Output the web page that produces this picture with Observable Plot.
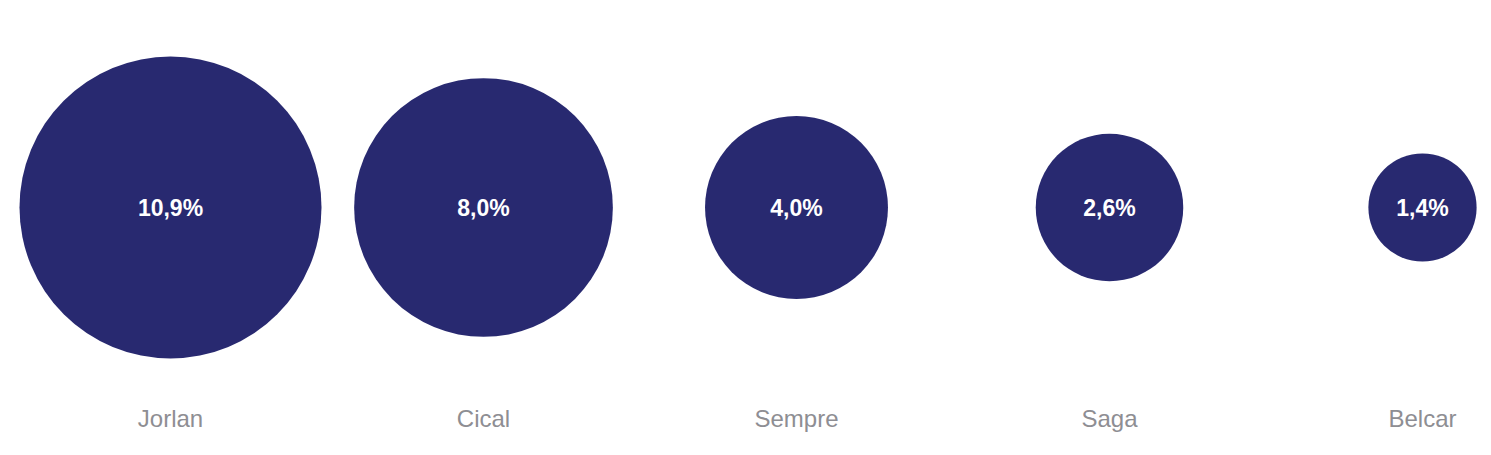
<!DOCTYPE html>
<html>
<head>
<meta charset="utf-8">
<script src="https://cdn.jsdelivr.net/npm/d3@7"></script>
<script src="https://cdn.jsdelivr.net/npm/@observablehq/plot@0.6"></script>
<style>
  body { margin: 0; background: #fff; }
</style>
</head>
<body>
<div id="chart"></div>
<script>
const brands = ["Jorlan", "Cical", "Sempre", "Saga", "Belcar"];
const shares = [10.9, 8.0, 4.0, 2.6, 1.4];

const data = brands.map((b, i) => ({brand: b, share: shares[i]}));
const fmt = v => v.toFixed(1).replace(".", ",") + "%";

let chart = Plot.plot({
  width: 1491,
  height: 455,
  marginTop: 9,
  marginBottom: 50,
  style: {fontFamily: "Arial, 'Liberation Sans', sans-serif", background: "#fff"},
  x: {type: "point", domain: brands, range: [169, 1423], padding: 0, label: null},
  r: {type: "sqrt", domain: [0, 10.9], range: [0, 151]},
  marks: [
    Plot.axisX({anchor: "bottom", tickSize: 0, tickPadding: 4, fontSize: 24, color: "#8e8e93", label: null}),
    Plot.dot(data, {x: "brand", r: "share", fill: "#282970", stroke: "none"}),
    Plot.text(data, {x: "brand", text: d => fmt(d.share), fill: "#fff",
      fontSize: 23, fontWeight: "bold", dy: 1})
  ]
});

d3.select("#chart").append(() => chart);
</script>
</body>
</html>
